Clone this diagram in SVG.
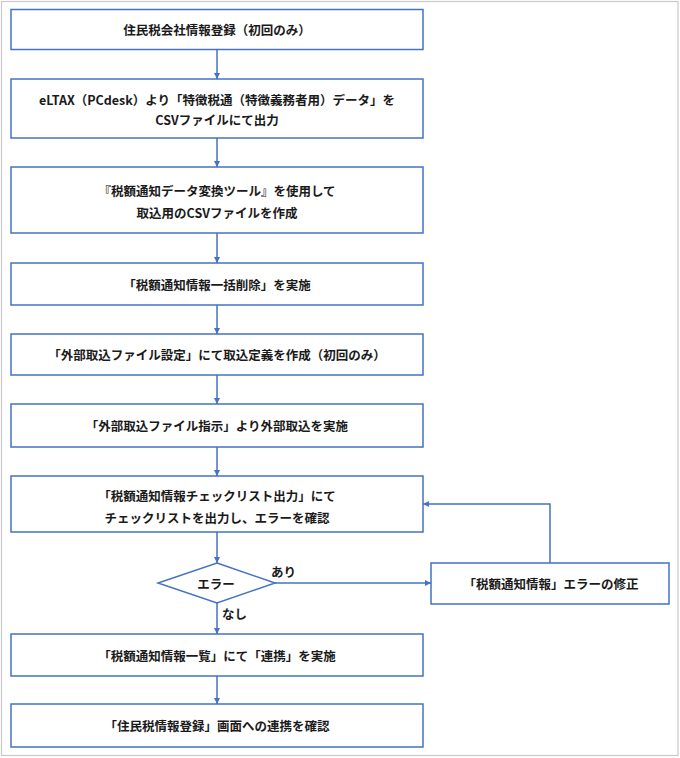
<svg xmlns="http://www.w3.org/2000/svg" width="680" height="758" viewBox="0 0 680 758">
<style>
.box{fill:#fff;stroke:#4472C4;stroke-width:1.5}
.t{font-family:"Noto Sans CJK JP","Noto Sans",sans-serif;font-size:12.5px;font-weight:bold;fill:#1a1a1a;text-anchor:middle;dominant-baseline:central}
.lbl{text-anchor:start}
.c{fill:none;stroke:#4472C4;stroke-width:1.5}
</style>
<defs>
<marker id="ah" viewBox="0 0 10 10" refX="10" refY="5" markerWidth="6" markerHeight="6" markerUnits="userSpaceOnUse" orient="auto">
<path d="M0,0 L10,5 L0,10 z" fill="#4472C4"/>
</marker>
</defs>
<rect x="1.5" y="1.5" width="676.5" height="754" fill="#fff" stroke="#C8C8C8" stroke-width="1.2"/>
<g id="connectors">
<line class="c" x1="217" y1="49" x2="217" y2="79" marker-end="url(#ah)"/>
<line class="c" x1="217" y1="138" x2="217" y2="167" marker-end="url(#ah)"/>
<line class="c" x1="217" y1="233" x2="217" y2="263" marker-end="url(#ah)"/>
<line class="c" x1="217" y1="305" x2="217" y2="334" marker-end="url(#ah)"/>
<line class="c" x1="217" y1="375" x2="217" y2="404" marker-end="url(#ah)"/>
<line class="c" x1="217" y1="447" x2="217" y2="476" marker-end="url(#ah)"/>
<line class="c" x1="217" y1="532" x2="217" y2="563" marker-end="url(#ah)"/>
<line class="c" x1="217" y1="603" x2="217" y2="634" marker-end="url(#ah)"/>
<line class="c" x1="217" y1="676" x2="217" y2="704" marker-end="url(#ah)"/>
<line class="c" x1="275" y1="583" x2="431" y2="583" marker-end="url(#ah)"/>
<polyline class="c" points="550,563 550,504 423,504" marker-end="url(#ah)"/>
<text class="t lbl" x="271" y="571">あり</text>
<text class="t lbl" x="222" y="613">なし</text>
</g>
<g id="n1"><rect class="box" x="11" y="9.5" width="412" height="40"/><text class="t" x="217" y="29.5">住民税会社情報登録（初回のみ）</text></g>
<g id="n2"><rect class="box" x="11" y="79" width="412" height="59"/><text class="t" x="217" y="99">eLTAX（PCdesk）より「特徴税通（特徴義務者用）データ」を</text><text class="t" x="217" y="119">CSVファイルにて出力</text></g>
<g id="n3"><rect class="box" x="11" y="167" width="412" height="66"/><text class="t" x="217" y="190">『税額通知データ変換ツール』を使用して</text><text class="t" x="217" y="212">取込用のCSVファイルを作成</text></g>
<g id="n4"><rect class="box" x="11" y="263" width="412" height="42"/><text class="t" x="217" y="284">「税額通知情報一括削除」を実施</text></g>
<g id="n5"><rect class="box" x="11" y="334" width="412" height="41"/><text class="t" x="217" y="354.5">「外部取込ファイル設定」にて取込定義を作成（初回のみ）</text></g>
<g id="n6"><rect class="box" x="11" y="404" width="412" height="43"/><text class="t" x="217" y="425.5">「外部取込ファイル指示」より外部取込を実施</text></g>
<g id="n7"><rect class="box" x="11" y="476" width="412" height="56"/><text class="t" x="217" y="495">「税額通知情報チェックリスト出力」にて</text><text class="t" x="217" y="517">チェックリストを出力し、エラーを確認</text></g>
<g id="n8"><polygon class="box" points="217,563 275,583 217,603 158,583"/><text class="t" x="216" y="583">エラー</text></g>
<g id="n9"><rect class="box" x="431" y="563" width="238" height="41"/><text class="t" x="551" y="583.5">「税額通知情報」エラーの修正</text></g>
<g id="n10"><rect class="box" x="11" y="634" width="412" height="42"/><text class="t" x="217" y="655">「税額通知情報一覧」にて「連携」を実施</text></g>
<g id="n11"><rect class="box" x="11" y="704" width="412" height="43"/><text class="t" x="217" y="725.5">「住民税情報登録」画面への連携を確認</text></g>
</svg>
